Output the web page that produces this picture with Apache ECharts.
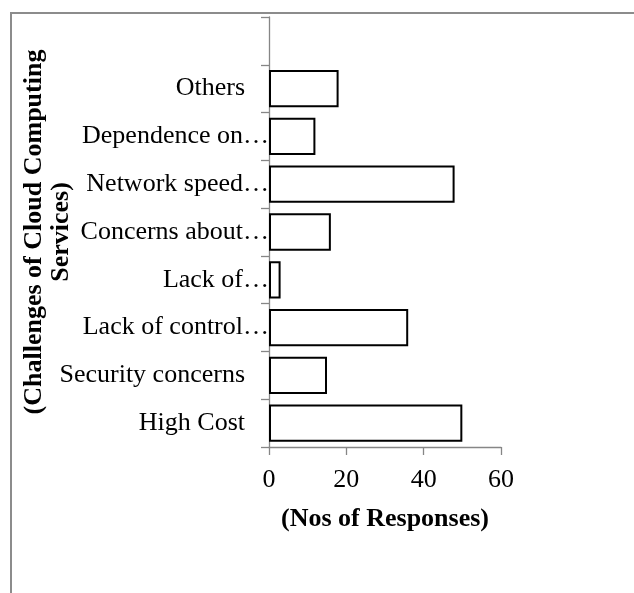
<!DOCTYPE html>
<html>
<head>
<meta charset="utf-8">
<script src="https://cdn.jsdelivr.net/npm/echarts@6/dist/echarts.min.js"></script>
<style>
  html, body { margin: 0; padding: 0; background: #fff; }
  #chart { width: 634px; height: 593px; }
</style>
</head>
<body>
<div id="chart"></div>
<script>
// Challenges of cloud computing services, bottom to top (top slot left empty)
const categories = [
  'High Cost',
  'Security concerns',
  'Lack of control…',
  'Lack of…',
  'Concerns about…',
  'Network speed…',
  'Dependence on…',
  'Others',
  ''
];
const responses = [50, 15, 36, 3, 16, 48, 12, 18, null];
const xTicks = { min: 0, max: 60, interval: 20 };

const serif = "'Liberation Serif', 'Times New Roman', serif";
const axisGray = '#868686';

const chart = echarts.init(document.getElementById('chart'), null, { renderer: 'canvas' });

chart.setOption({
  animation: false,
  backgroundColor: '#ffffff',
  graphic: [{
    type: 'polyline',
    silent: true,
    shape: { points: [[11, 600], [11, 13], [640, 13]] },
    style: { stroke: '#8c8c8c', lineWidth: 2, fill: null }
  }],
  grid: { left: 269, right: 133, top: 17, bottom: 146, containLabel: false },
  xAxis: {
    type: 'value',
    min: xTicks.min,
    max: xTicks.max,
    interval: xTicks.interval,
    name: '(Nos of Responses)',
    nameLocation: 'middle',
    nameGap: 59,
    nameMoveOverlap: false,
    nameTextStyle: { fontFamily: serif, fontSize: 26, fontWeight: 'bold', color: '#000' },
    axisLine: { show: true, lineStyle: { color: axisGray, width: 1.3 } },
    axisTick: { show: true, length: 8, lineStyle: { color: axisGray, width: 1.3 } },
    axisLabel: { fontFamily: serif, fontSize: 26, color: '#000', margin: 20 },
    splitLine: { show: false }
  },
  yAxis: {
    type: 'category',
    data: categories,
    name: '(Challenges of Cloud Computing\nServices)',
    nameLocation: 'middle',
    nameRotate: 90,
    nameGap: 194,
    nameMoveOverlap: false,
    nameTextStyle: { fontFamily: serif, fontSize: 26, fontWeight: 'bold', color: '#000', lineHeight: 27 },
    axisLine: { show: true, lineStyle: { color: axisGray, width: 1.3 } },
    axisTick: { show: true, length: 8, lineStyle: { color: axisGray, width: 1.3 } },
    axisLabel: {
      interval: 0,
      margin: 0,
      fontFamily: serif,
      fontSize: 26,
      color: '#000',
      formatter: function (v) {
        if (!v) return '';
        return v.endsWith('…') ? '{e|' + v + '}' : '{p|' + v + '}';
      },
      rich: {
        e: { fontFamily: serif, fontSize: 26, color: '#000' },
        p: { fontFamily: serif, fontSize: 26, color: '#000', padding: [0, 24, 0, 0] }
      }
    },
    splitLine: { show: false }
  },
  series: [{
    type: 'bar',
    data: responses,
    barCategoryGap: '22%',
    itemStyle: { color: '#ffffff', borderColor: '#000000', borderWidth: 2 },
    silent: true
  }]
});
</script>
</body>
</html>
